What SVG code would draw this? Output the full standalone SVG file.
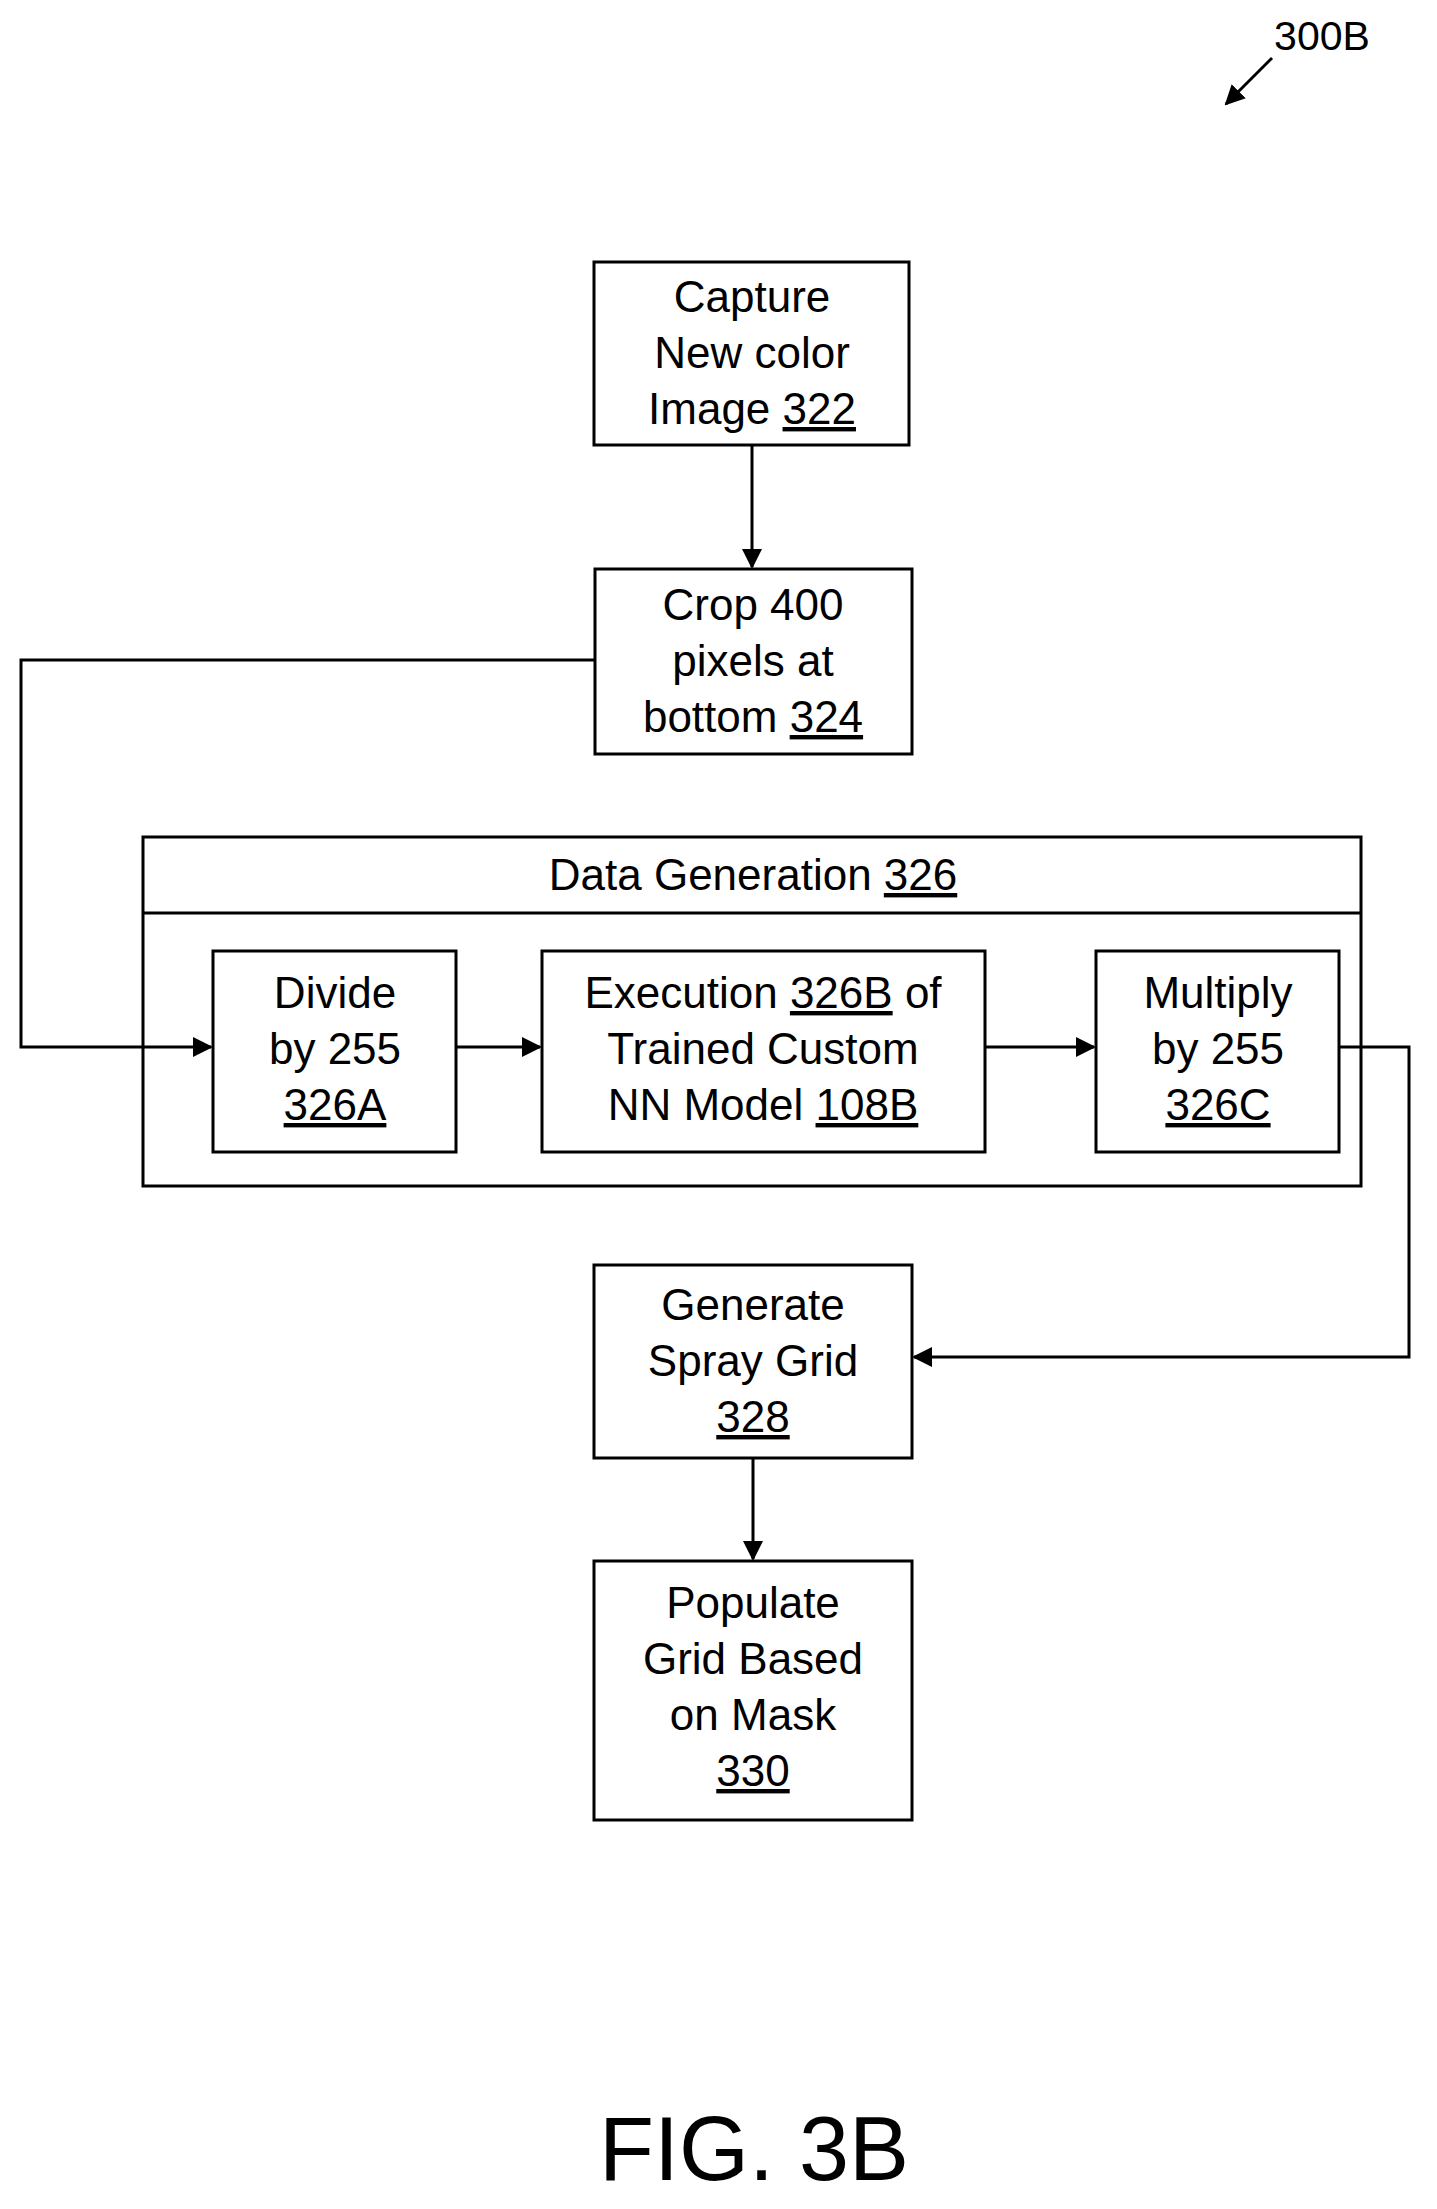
<svg xmlns="http://www.w3.org/2000/svg" width="1437" height="2209" viewBox="0 0 1437 2209">
<style>
.b{fill:#fff;stroke:#000;stroke-width:3}
.l{fill:none;stroke:#000;stroke-width:3}
text{font-family:"Liberation Sans",Arial,sans-serif;font-size:44px;text-anchor:middle;fill:#000}
.u{text-decoration:underline}
</style>
<defs><marker id="a2" markerWidth="20" markerHeight="20" refX="18" refY="10" orient="auto" markerUnits="userSpaceOnUse" viewBox="0 0 20 20"><path d="M0,0L20,10L0,20z"/></marker></defs>
<rect width="1437" height="2209" fill="#fff"/>
<g id="label300B"><text x="1322" y="50" style="font-size:41px">300B</text><line class="l" x1="1272" y1="58" x2="1226" y2="104" marker-end="url(#a2)"/></g>
<g id="n322"><rect class="b" x="594" y="262" width="315" height="183"/><text x="752" y="312">Capture</text><text x="752" y="368">New color</text><text x="752" y="424">Image <tspan class="u">322</tspan></text></g>
<g id="n324"><rect class="b" x="595" y="569" width="317" height="185"/><text x="753" y="620">Crop 400</text><text x="753" y="676">pixels at</text><text x="753" y="732">bottom <tspan class="u">324</tspan></text></g>
<g id="n326"><rect class="b" x="143" y="837" width="1218" height="349"/><line class="l" x1="143" y1="913" x2="1361" y2="913"/><text x="753" y="890">Data Generation <tspan class="u">326</tspan></text></g>
<g id="n326A"><rect class="b" x="213" y="951" width="243" height="201"/><text x="335" y="1008">Divide</text><text x="335" y="1064">by 255</text><text x="335" y="1120" class="u">326A</text></g>
<g id="n326B"><rect class="b" x="542" y="951" width="443" height="201"/><text x="763" y="1008">Execution <tspan class="u">326B</tspan> of</text><text x="763" y="1064">Trained Custom</text><text x="763" y="1120">NN  Model <tspan class="u">108B</tspan></text></g>
<g id="n326C"><rect class="b" x="1096" y="951" width="243" height="201"/><text x="1218" y="1008">Multiply</text><text x="1218" y="1064">by 255</text><text x="1218" y="1120" class="u">326C</text></g>
<g id="n328"><rect class="b" x="594" y="1265" width="318" height="193"/><text x="753" y="1320">Generate</text><text x="753" y="1376">Spray Grid</text><text x="753" y="1432" class="u">328</text></g>
<g id="n330"><rect class="b" x="594" y="1561" width="318" height="259"/><text x="753" y="1618">Populate</text><text x="753" y="1674">Grid Based</text><text x="753" y="1730">on Mask</text><text x="753" y="1786" class="u">330</text></g>
<g id="connectors">
<line class="l" x1="752" y1="445" x2="752" y2="567" marker-end="url(#a2)"/>
<polyline class="l" points="595,660 21,660 21,1047 211,1047" marker-end="url(#a2)"/>
<line class="l" x1="456" y1="1047" x2="540" y2="1047" marker-end="url(#a2)"/>
<line class="l" x1="985" y1="1047" x2="1094" y2="1047" marker-end="url(#a2)"/>
<polyline class="l" points="1339,1047 1409,1047 1409,1357 914,1357" marker-end="url(#a2)"/>
<line class="l" x1="753" y1="1458" x2="753" y2="1559" marker-end="url(#a2)"/>
</g>
<text x="754" y="2180" style="font-size:90px">FIG. 3B</text>
</svg>
